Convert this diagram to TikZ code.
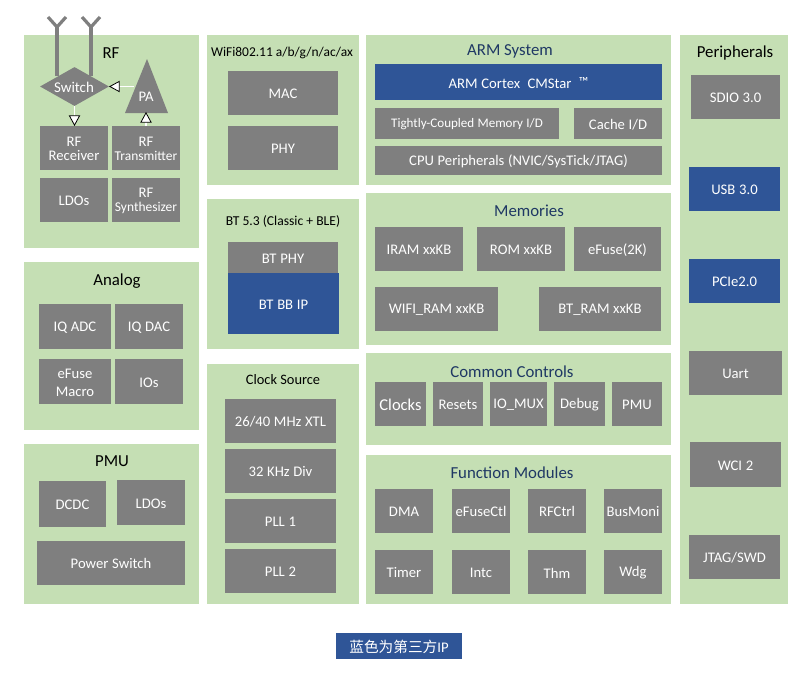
\documentclass[tikz,border=0pt]{standalone}
\usepackage{fontspec}
\setmainfont{Carlito}
\newfontfamily\cjkfont{Noto Sans CJK SC}
\usetikzlibrary{arrows.meta,shapes.geometric}
\definecolor{panelgreen}{HTML}{C5DFB4}
\definecolor{blockgrey}{HTML}{7F7F7F}
\definecolor{ipblue}{HTML}{2F5597}
\definecolor{headnavy}{HTML}{1F3864}
\tikzset{
  panel/.style={fill=panelgreen,draw=none,inner sep=0pt},
  block/.style={fill=blockgrey,draw=none,inner sep=0pt},
  ipblock/.style={fill=ipblue,draw=none,inner sep=0pt},
  caption/.style={inner sep=0pt,text=white,align=center,font=\fontsize{11}{10.5}\selectfont},
  head/.style={font=\fontsize{12.6}{14}\selectfont,text=black,inner sep=0pt},
  navy/.style={text=headnavy},
  antenna/.style={draw=blockgrey,line width=2.4pt},
  sig/.style={draw=white,line width=1pt,-{Triangle[length=8pt,width=8.5pt,fill=white,color=black,line width=0.6pt]}}
}
% \pn{name}{x0}{y0}{x1}{y1}: green panel given by its pixel corners
\newcommand{\pn}[5]{%
  \pgfmathsetmacro{\bxw}{(#4-#2)*0.75}%
  \pgfmathsetmacro{\bxh}{(#5-#3)*0.75}%
  \node[panel,minimum width=\bxw pt,minimum height=\bxh pt] (#1) at ({(#2+#4)/2},{(#3+#5)/2}) {};}
% \bx{name}{x0}{y0}{x1}{y1}{fill style}{caption options}{text}: block plus its caption
\newcommand{\bx}[8]{%
  \pgfmathsetmacro{\bxw}{(#4-#2)*0.75}%
  \pgfmathsetmacro{\bxh}{(#5-#3)*0.75}%
  \node[#6,minimum width=\bxw pt,minimum height=\bxh pt] (#1) at ({(#2+#4)/2},{(#3+#5)/2}) {};
  \node[caption,#7,text width=\bxw pt,yshift=-0.7pt] (#1-t) at (#1.center) {\spaceskip=0.25em #8};}
\begin{document}
\begin{tikzpicture}[x=0.75pt,y=-0.75pt]
\useasboundingbox (0,0) rectangle (810,678);

% Panels
\pn{prf}{24}{35}{199}{248}
\pn{pana}{24}{262}{199}{430}
\pn{ppmu}{24}{444}{199}{604}
\pn{pwifi}{207}{35}{359}{185}
\pn{pbt}{207}{199}{359}{349}
\pn{pclk}{207}{364}{359}{604}
\pn{parm}{366}{35}{671}{185}
\pn{pmem}{366}{193}{671}{345}
\pn{pctl}{366}{353}{671}{445}
\pn{pfun}{366}{455}{671}{604}
\pn{pper}{680}{35}{788}{604}

% RF section
\node[head] (trf) at (111,53) {RF};
\bx{rx}{40}{126}{108}{170}{block}{}{RF\\Receiver}
\bx{tx}{112}{126}{180}{170}{block}{}{RF\\{\fontsize{10.1}{10}\selectfont Transmitter}}
\bx{ldo}{40}{178}{108}{222}{block}{}{LDOs}
\bx{syn}{112}{178}{180}{222}{block}{}{RF\\{\fontsize{10.1}{10}\selectfont Synthesizer}}
\coordinate (a1) at (57,27);
\coordinate (a2) at (91,27);
\coordinate (a1l) at (48,17);
\coordinate (a1r) at (66,17);
\coordinate (a2l) at (82,17);
\coordinate (a2r) at (100,17);
\coordinate (a1b) at (57,76);
\coordinate (a2b) at (91,76);
\draw[antenna] (a1l) -- (a1) -- (a1r);
\draw[antenna] (a2l) -- (a2) -- (a2r);
\draw[antenna] (a1) -- (a1b);
\draw[antenna] (a2) -- (a2b);
\node[fill=blockgrey,draw=none,diamond,aspect=1.77,inner sep=0pt,minimum width=51.75pt,minimum height=29.25pt] (sw) at (74.5,86.5) {};
\node[caption,font=\fontsize{11.2}{12}\selectfont] (swt) at (74,87) {Switch};
\fill[blockgrey] (147,59) coordinate (paA) -- (168,113) coordinate (paR) -- (125,113) coordinate (paL) -- cycle;
\node[caption] (pa) at (146,97) {PA};
\coordinate (paout) at (134,86.5);
\coordinate (paend) at (109,86.5);
\coordinate (rxin) at (74.5,126);
\coordinate (swb) at (74.5,106);
\coordinate (txtop) at (146,126);
\coordinate (pain) at (146,112);
\draw[sig] (paout) -- (paend);
\draw[sig] (swb) -- (rxin);
\draw[sig] (txtop) -- (pain);

% Analog
\node[head] (tana) at (117,281) {Analog};
\bx{adc}{39}{304}{111}{349}{block}{}{IQ ADC}
\bx{dac}{115}{304}{183}{349}{block}{}{IQ DAC}
\bx{efm}{39}{359}{111}{404}{block}{}{eFuse\\[3pt]Macro}
\bx{ios}{115}{359}{183}{404}{block}{}{IOs}

% PMU
\node[head] (tpmu) at (112,461) {PMU};
\bx{dcdc}{39}{481}{106}{527}{block}{}{DCDC}
\bx{pldo}{117}{480}{185}{525}{block}{}{LDOs}
\bx{psw}{37}{541}{185}{585}{block}{}{Power Switch}

% WiFi
\node[inner sep=0pt,text=black,font=\fontsize{10.1}{11}\selectfont] (twifi) at (282,53) {WiFi802.11 a/b/g/n/ac/ax};
\bx{mac}{228}{71}{338}{115}{block}{}{MAC}
\bx{phy}{228}{126}{338}{170}{block}{}{PHY}

% Bluetooth
\node[inner sep=0pt,text=black,font=\fontsize{10.2}{11}\selectfont] (tbt) at (283,221) {BT 5.3 (Classic + BLE)};
\bx{btphy}{228}{242}{338}{273}{block}{}{BT PHY}
\bx{btbb}{228}{273}{339}{334}{ipblock}{}{BT BB IP}

% Clocks
\node[inner sep=0pt,text=black,font=\fontsize{10.8}{12}\selectfont] (tclk) at (283,380) {Clock Source};
\bx{xtl}{225}{399}{336}{443}{block}{}{26/40 MHz XTL}
\bx{div}{225}{449}{336}{493}{block}{}{32 KHz Div}
\bx{pll1}{225}{499}{336}{543}{block}{}{PLL 1}
\bx{pll2}{225}{549}{336}{593}{block}{}{PLL 2}

% ARM system
\node[head,navy] (tarm) at (510,51) {ARM System};
\bx{cm}{375}{64}{662}{100}{ipblock}{}{ARM Cortex\ \ CMStar\ \ \raisebox{2pt}{\fontsize{10}{10}\selectfont ™}}
\bx{tcm}{375}{108}{559}{139}{block}{font=\fontsize{9.8}{11}\selectfont}{Tightly-Coupled Memory I/D}
\bx{cache}{574}{108}{662}{139}{block}{}{Cache I/D}
\bx{cpu}{375}{146}{662}{175}{block}{}{CPU Peripherals (NVIC/SysTick/JTAG)}

% Memories
\node[head,navy] (tmem) at (529,211) {Memories};
\bx{iram}{375}{227}{463}{271}{block}{}{IRAM xxKB}
\bx{rom}{477}{227}{565}{271}{block}{}{ROM xxKB}
\bx{efuse}{574}{227}{661}{271}{block}{}{eFuse(2K)}
\bx{wram}{375}{287}{498}{331}{block}{}{WIFI\_RAM xxKB}
\bx{bram}{539}{287}{661}{331}{block}{}{BT\_RAM xxKB}

% Common controls
\node[head,navy] (tctl) at (512,372) {Common Controls};
\bx{clks}{375}{382}{426}{426}{block}{font=\fontsize{12.4}{13}\selectfont}{Clocks}
\bx{rst}{433}{382}{483}{426}{block}{}{Resets}
\bx{mux}{490}{382}{547}{426}{block}{}{IO\_MUX}
\bx{dbg}{554}{382}{605}{426}{block}{}{Debug}
\bx{cpmu}{612}{382}{662}{426}{block}{}{PMU}

% Function modules
\node[head,navy] (tfun) at (512,473) {Function Modules};
\bx{dma}{375}{489}{433}{533}{block}{}{DMA}
\bx{efc}{452}{489}{510}{533}{block}{}{eFuseCtl}
\bx{rfc}{528}{489}{586}{533}{block}{}{RFCtrl}
\bx{bus}{604}{489}{662}{533}{block}{}{BusMoni}
\bx{tmr}{375}{550}{433}{594}{block}{}{Timer}
\bx{intc}{452}{550}{510}{594}{block}{}{Intc}
\bx{thm}{528}{550}{586}{594}{block}{}{Thm}
\bx{wdg}{604}{550}{662}{594}{block}{}{Wdg}

% Peripherals
\node[head] (tper) at (735,53) {Peripherals};
\bx{sdio}{691}{75}{780}{119}{block}{}{SDIO 3.0}
\bx{usb}{689}{167}{780}{211}{ipblock}{}{USB 3.0}
\bx{pcie}{689}{259}{780}{303}{ipblock}{}{PCIe2.0}
\bx{uart}{689}{351}{782}{395}{block}{}{Uart}
\bx{wci}{690}{442}{781}{487}{block}{}{WCI 2}
\bx{jtag}{689}{535}{780}{579}{block}{}{JTAG/SWD}

% Colour key
\bx{key}{336}{633}{462}{659}{ipblock}{}{{\cjkfont\fontsize{11}{12}\selectfont 蓝色为第三方}IP}
\end{tikzpicture}
\end{document}
